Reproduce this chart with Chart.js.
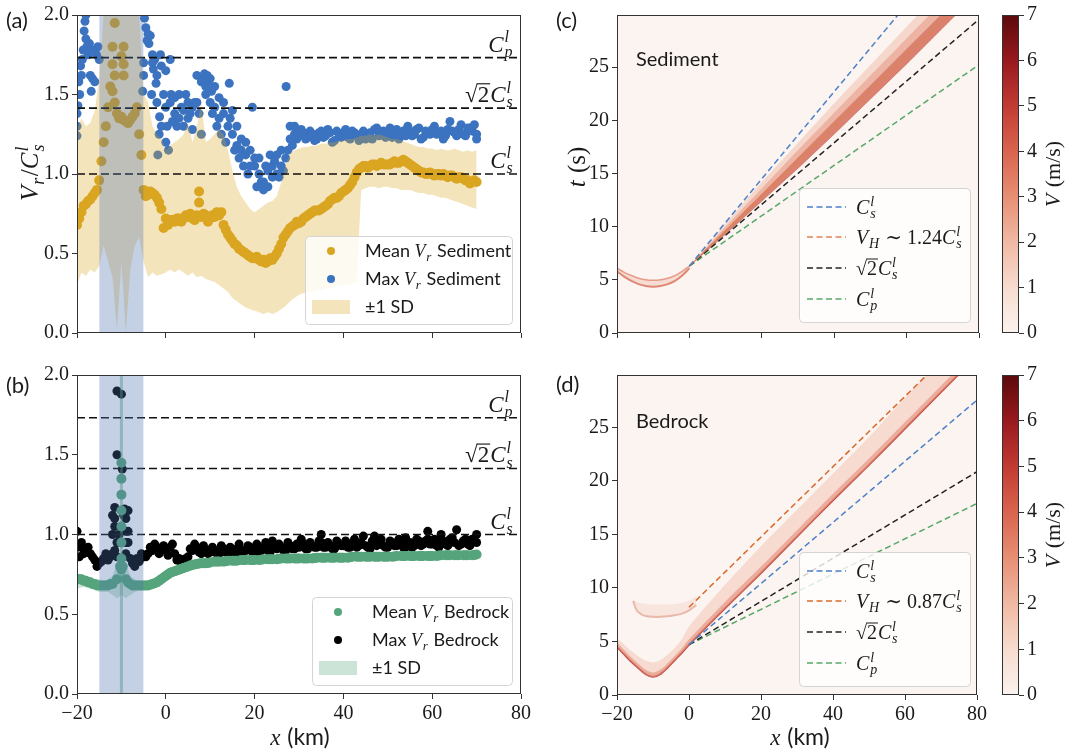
<!DOCTYPE html>
<html>
<head>
<meta charset="utf-8">
<script src="https://cdn.jsdelivr.net/npm/chart.js@4.4.1/dist/chart.umd.min.js"></script>
<style>
body { margin: 0; background: #fff; }
#fig { position: relative; width: 1070px; height: 752px; }
#fig canvas { position: absolute; }
</style>
</head>
<body>
<div id="fig">
  <canvas id="pa" width="535" height="360" style="left:0;top:0"></canvas>
  <canvas id="pb" width="535" height="392" style="left:0;top:360px"></canvas>
  <canvas id="pc" width="450" height="360" style="left:540px;top:0"></canvas>
  <canvas id="cbc" width="80" height="360" style="left:990px;top:0"></canvas>
  <canvas id="pd" width="450" height="392" style="left:540px;top:360px"></canvas>
  <canvas id="cbd" width="80" height="392" style="left:990px;top:360px"></canvas>
</div>
<script>
// ---------- profiles along x (km), one value per km from -20 to 70 ----------
var profX = [];
for (var i = -20; i <= 70; i++) profX.push(i);

var meanSed = [0.68,0.76,0.81,0.84,0.88,0.96,1.20,1.42,1.52,1.38,1.36,1.33,1.34,1.38,1.25,0.90,0.87,0.88,0.85,0.78,
  0.72,0.71,0.70,0.72,0.72,0.73,0.72,0.74,0.73,0.74,0.72,0.73,0.74,0.68,0.62,0.58,0.55,0.52,0.50,0.48,
  0.47,0.46,0.46,0.45,0.46,0.50,0.56,0.62,0.66,0.68,0.69,0.72,0.74,0.76,0.77,0.78,0.80,0.83,0.85,0.86,
  0.89,0.91,0.95,1.01,1.04,1.05,1.05,1.06,1.06,1.06,1.06,1.07,1.07,1.08,1.08,1.06,1.04,1.02,1.01,1.00,
  1.00,1.00,0.99,0.99,0.99,0.98,0.98,0.97,0.96,0.95,0.95];
var meanSedExtra = [[-19.5,0.72],[-18.5,0.80],[-17.5,0.83],[-16.5,0.86],[-15.5,0.90],[-14.5,1.08],[-13.5,1.30],
  [-12.5,1.55],[-11.5,1.45],[-10.5,1.35],[-9.5,1.34],[-8.5,1.32],[-7.5,1.36],[-6.5,1.42],[-5.5,1.12],[-4.5,0.86],
  [-3.5,0.89],[-2.5,0.87],[-1.5,0.82],[-0.5,0.66],[-11.5,1.95],[-12,1.80],[-9.5,1.80],[-10,1.74],[-12,1.69],
  [-9.5,1.69],[-9.5,1.62],[-11.5,1.62],[7.5,0.89],[7.5,0.82],[12.5,0.76],[0.5,0.68],[1.5,0.71],[2.5,0.72],
  [3.5,0.70],[4.5,0.74],[5.5,0.75],[6.5,0.71],[8.5,0.75],[9.5,0.70],[10.5,0.74],[11.5,0.76],[13.5,0.65],
  [14.5,0.60],[15.5,0.56],[16.5,0.53],[17.5,0.51],[18.5,0.49],[19.5,0.47],[20.5,0.48],[21.5,0.45],[22.5,0.44],
  [23.5,0.47],[24.5,0.48],[25.5,0.53],[26.5,0.60],[27.5,0.64],[28.5,0.67],[29.5,0.70],[30.5,0.70],[31.5,0.73],
  [32.5,0.75],[33.5,0.77],[34.5,0.77],[35.5,0.79],[36.5,0.81],[37.5,0.84],[38.5,0.85],[39.5,0.88],[40.5,0.90],
  [41.5,0.93],[42.5,0.98],[43.5,1.03],[44.5,1.05],[45.5,1.04],[46.5,1.06],[47.5,1.05],[48.5,1.07],[49.5,1.06],
  [50.5,1.06],[51.5,1.08],[52.5,1.07],[53.5,1.09],[54.5,1.07],[55.5,1.05],[56.5,1.03],[57.5,1.01],[58.5,1.00],
  [59.5,1.01],[60.5,0.99],[61.5,1.00],[62.5,1.00],[63.5,0.98],[64.5,0.99],[65.5,0.97],[66.5,0.98],[67.5,0.96],
  [68.5,0.94],[69.5,0.96]];
var sedUp = [1.28,1.35,1.30,1.32,1.40,1.60,2.0,2.0,2.0,2.0,2.0,2.0,2.0,2.0,2.0,1.50,1.45,1.30,1.25,1.22,
  1.15,1.18,1.20,1.22,1.25,1.32,1.20,1.30,1.45,1.20,1.22,1.25,1.28,1.25,1.15,1.02,0.92,0.86,0.82,0.78,
  0.76,0.78,0.80,0.82,0.83,0.86,0.95,1.06,1.13,1.15,1.16,1.17,1.17,1.18,1.18,1.19,1.19,1.20,1.20,1.21,
  1.21,1.22,1.22,1.23,1.24,1.24,1.25,1.24,1.25,1.24,1.23,1.22,1.22,1.21,1.20,1.19,1.18,1.17,1.17,1.16,
  1.16,1.15,1.16,1.15,1.15,1.16,1.15,1.14,1.15,1.14,1.15];
var sedLo = [0.30,0.38,0.36,0.40,0.38,0.42,0.55,0.45,0.35,0.02,0.45,0.0,0.40,0.55,0.60,0.45,0.35,0.38,0.36,0.37,
  0.38,0.40,0.38,0.40,0.38,0.36,0.38,0.35,0.36,0.34,0.33,0.32,0.30,0.28,0.26,0.22,0.20,0.18,0.16,0.15,
  0.14,0.13,0.12,0.13,0.12,0.13,0.15,0.17,0.20,0.22,0.24,0.25,0.26,0.26,0.27,0.27,0.28,0.28,0.29,0.30,
  0.30,0.30,0.31,0.32,0.90,0.91,0.92,0.92,0.91,0.92,0.92,0.91,0.91,0.90,0.90,0.90,0.89,0.88,0.88,0.87,
  0.87,0.86,0.85,0.85,0.84,0.83,0.82,0.81,0.80,0.79,0.78];
var maxSed = [1.30,1.62,1.85,1.78,1.58,1.72,null,null,null,null,null,null,null,null,null,1.62,1.88,1.70,1.62,1.30,
  1.42,1.45,1.38,1.35,1.40,1.45,1.42,1.45,1.58,1.55,1.45,1.42,1.35,1.38,1.30,1.25,1.18,1.15,1.12,1.05,
  1.10,1.00,0.95,1.02,1.05,1.00,1.05,1.10,1.22,1.25,1.24,1.26,1.23,1.25,1.22,1.27,1.24,1.26,1.21,1.25,
  1.26,1.23,1.27,1.24,1.25,1.22,1.26,1.28,1.24,1.27,1.25,1.23,1.28,1.26,1.24,1.27,1.25,1.29,1.23,1.26,
  1.28,1.25,1.27,1.24,1.33,1.26,1.28,1.25,1.29,1.27,1.25];
var maxSedExtra = [[-20,1.24],[-20,1.38],[-19.8,1.43],[-19.6,1.58],[-19.4,1.50],[-19.2,1.68],[-18.8,1.72],
  [-18.6,1.78],[-18.4,1.90],[-18.2,1.96],[-18,2.0],[-17.8,1.80],[-17.5,1.75],[-17.2,1.82],[-17,1.62],[-16.8,1.52],
  [-16.5,1.60],[-16.2,1.78],[-15.6,1.75],[-15.3,1.80],
  [-5.2,1.52],[-5,1.70],[-4.8,1.98],[-4.5,1.92],[-4.2,1.84],[-3.8,1.82],[-3.5,1.87],[-3.2,1.50],[-3,1.75],
  [-2.8,1.66],[-2.5,1.72],[-2.2,1.57],[-2,1.45],[-1.8,1.12],[-1.5,1.25],[-1.4,1.36],[-1.2,1.75],[-1,1.68],[-0.5,1.50],
  [0,1.65],[0,1.20],[0.3,1.30],[0.6,1.15],[1,1.72],[1.2,1.50],[1.5,1.33],[2,1.48],[2.5,1.30],[3,1.50],[3.5,1.42],
  [4,1.30],[4.5,1.50],[5,1.35],[5.5,1.38],[6,1.28],[6.5,1.45],[7,1.62],[7.5,1.38],[8,1.25],[8.3,1.60],[8.7,1.63],
  [9,1.50],[9.3,1.62],[9.6,1.58],[10,1.60],[10.3,1.52],[10.5,1.38],[11,1.55],[11.5,1.30],[12,1.48],[12.5,1.25],
  [13,1.45],[13.5,1.20],[14.3,1.57],[14.5,1.35],[15,1.40],[15.5,1.15],[16,1.30],[16.5,1.10],[17,1.22],[17.5,1.05],
  [18,1.20],[18.5,1.00],[19,1.15],[19.5,1.42],[20,1.05],[20.5,0.92],[21,1.10],[21.5,0.95],[22,0.90],[22.5,1.05],
  [23,0.92],[23.5,1.12],[24,0.98],[24.5,1.08],[25,1.12],[25.5,0.98],[26,1.15],[26.5,1.02],[27.1,1.55],[27.5,1.15],
  [28,1.30],[28.5,1.18],[29,1.30],[29.5,1.22],
  [30.5,1.28],[31.5,1.22],[32.5,1.27],[33.5,1.21],[34.5,1.26],[35.5,1.23],[36.5,1.28],[37.5,1.20],[38.5,1.27],
  [39.5,1.23],[40.5,1.28],[41.5,1.22],[42.5,1.26],[43.5,1.21],[44.5,1.27],[45.5,1.24],[46.5,1.22],[47.5,1.29],
  [48.5,1.25],[49.5,1.23],[50.5,1.29],[51.5,1.26],[52.5,1.22],[53.5,1.27],[54.5,1.30],[55.5,1.24],[56.5,1.28],
  [57.5,1.22],[58.5,1.27],[59.5,1.25],[60.5,1.30],[61.5,1.26],[62.5,1.22],[63.5,1.28],[64.5,1.27],[65.5,1.24],
  [66.5,1.31],[67.5,1.24],[68.5,1.29],[69.5,1.31],[70,1.22]];

var meanBed = [0.72,0.72,0.71,0.70,0.69,0.68,0.68,0.68,0.69,0.72,0.78,0.72,0.69,0.68,0.68,0.68,0.68,0.69,0.70,0.72,
  0.74,0.76,0.77,0.78,0.79,0.80,0.81,0.815,0.82,0.82,0.825,0.83,0.83,0.83,0.835,0.835,0.835,0.84,0.84,0.84,
  0.84,0.84,0.845,0.845,0.845,0.845,0.85,0.85,0.85,0.85,0.85,0.85,0.85,0.85,0.855,0.855,0.855,0.855,0.855,0.855,
  0.855,0.855,0.86,0.86,0.86,0.86,0.86,0.86,0.86,0.86,0.86,0.86,0.865,0.865,0.865,0.865,0.865,0.865,0.865,0.865,
  0.865,0.865,0.87,0.87,0.87,0.87,0.87,0.87,0.87,0.87,0.875];
var meanBedExtra = [[-10,0.85],[-10,0.95],[-10,1.05],[-10,1.15],[-10,1.25],[-10,1.35],[-10,1.45],[-10.3,0.80],[-9.7,0.80],
  [-19.5,0.72],[-18.5,0.71],[-17.5,0.70],[-16.5,0.69],[-15.5,0.68],[-14.5,0.68],[-13.5,0.68],[-12.5,0.69],
  [-8.5,0.70],[-7.5,0.68],[-6.5,0.68],[-5.5,0.68],[-4.5,0.68],[-3.5,0.685],[-2.5,0.695],[-1.5,0.71],[-0.5,0.73],
  [0.5,0.75],[1.5,0.765],[2.5,0.775],[3.5,0.785],[4.5,0.795],[5.5,0.805],[6.5,0.812],[7.5,0.818],[8.5,0.82],
  [9.5,0.822],[11.5,0.83],[13.5,0.832],[15.5,0.835],[17.5,0.84],[19.5,0.84],[21.5,0.842],[23.5,0.845],[25.5,0.848],
  [27.5,0.85],[29.5,0.85],[31.5,0.85],[33.5,0.852],[35.5,0.855],[37.5,0.855],[39.5,0.855],[41.5,0.858],[43.5,0.86],
  [45.5,0.86],[47.5,0.86],[49.5,0.86],[51.5,0.862],[53.5,0.865],[55.5,0.865],[57.5,0.865],[59.5,0.865],[61.5,0.868],
  [63.5,0.87],[65.5,0.87],[67.5,0.87],[69.5,0.872]];
var bedUp = [0.76,0.75,0.74,0.73,0.72,0.72,0.71,0.72,0.74,0.82,0.86,0.82,0.74,0.72,0.71,0.71,0.71,0.72,0.73,0.75,
  0.77,0.79,0.80,0.81,0.82,0.83,0.84,0.845,0.85,0.85,0.855,0.86,0.86,0.86,0.865,0.865,0.865,0.87,0.87,0.87,
  0.87,0.87,0.875,0.875,0.875,0.875,0.88,0.88,0.88,0.88,0.88,0.88,0.88,0.88,0.885,0.885,0.885,0.885,0.885,0.885,
  0.885,0.885,0.89,0.89,0.89,0.89,0.89,0.89,0.89,0.89,0.89,0.89,0.895,0.895,0.895,0.895,0.895,0.895,0.895,0.895,
  0.895,0.895,0.90,0.90,0.90,0.90,0.90,0.90,0.90,0.90,0.905];
var bedLo = [0.66,0.67,0.67,0.66,0.65,0.64,0.64,0.64,0.62,0.60,0.62,0.60,0.62,0.64,0.65,0.65,0.65,0.66,0.67,0.69,
  0.71,0.73,0.74,0.75,0.76,0.77,0.78,0.785,0.79,0.79,0.795,0.80,0.80,0.80,0.805,0.805,0.805,0.81,0.81,0.81,
  0.81,0.81,0.815,0.815,0.815,0.815,0.82,0.82,0.82,0.82,0.82,0.82,0.82,0.82,0.825,0.825,0.825,0.825,0.825,0.825,
  0.825,0.825,0.83,0.83,0.83,0.83,0.83,0.83,0.83,0.83,0.83,0.83,0.835,0.835,0.835,0.835,0.835,0.835,0.835,0.835,
  0.835,0.835,0.84,0.84,0.84,0.84,0.84,0.84,0.84,0.84,0.845];
var bedSpike = [[-10,0.0],[-10,2.0]];
var maxBed = [0.92,0.92,0.90,0.88,0.84,0.82,0.85,0.84,0.88,0.95,0.95,0.95,0.85,0.80,0.83,0.86,0.88,0.90,0.92,0.90,
  0.91,0.92,0.88,0.85,0.83,0.86,0.90,0.92,0.88,0.90,0.89,0.90,0.88,0.91,0.89,0.90,0.91,0.89,0.90,0.92,
  0.91,0.89,0.92,0.90,0.93,0.91,0.92,0.90,0.93,0.91,0.92,0.94,0.91,0.93,0.92,0.95,0.92,0.93,0.91,0.94,
  0.93,0.92,0.94,0.92,0.95,0.93,0.91,0.94,0.96,0.93,0.92,0.95,0.93,0.94,0.92,0.95,0.93,0.96,0.94,0.97,
  0.94,0.93,0.96,0.94,0.97,0.95,0.93,0.96,0.94,0.97,0.95];
var maxBedExtra = [[-20,1.02],[-19.5,0.86],[-19,0.95],[-18.5,0.88],[-17.5,0.92],[-16.5,0.86],[-15.5,0.80],[-14.5,0.83],
  [-13.5,0.88],[-12.5,0.86],[-12,1.00],[-12,1.12],[-11.5,1.17],[-11.5,1.10],[-11.5,1.05],[-11.5,0.90],[-11,1.90],
  [-11,1.50],[-11,0.86],[-10.5,1.00],[-10,1.88],[-9.8,1.41],[-9.5,1.12],[-9.3,1.16],[-9,1.10],[-9,1.02],[-9,0.88],
  [-8.5,1.15],[-8.5,0.95],[-8.5,1.02],[-7.5,0.82],[-6.5,0.85],[-5.5,0.88],[-4.5,0.86],[-3.5,0.92],[-2.5,0.94],
  [-1.5,0.88],[-0.5,0.93],[0.5,0.87],[1.5,0.94],[2.5,0.84],[3.5,0.82],[4.5,0.85],[5.5,0.91],[6.5,0.94],[7.5,0.89],
  [8.5,0.93],[9.5,0.88],[10.5,0.92],[11.5,0.88],[12.5,0.93],[13.5,0.89],[14.5,0.92],[15.5,0.88],[16.5,0.94],
  [17.5,0.90],[18.5,0.93],[19.5,0.89],[20.5,0.94],[21.5,0.90],[22.5,0.95],[23.5,0.89],[24,0.96],[24.5,0.92],
  [25.5,0.94],[26.5,0.90],[27.5,0.95],[28.5,0.91],[29.5,0.94],[30.5,0.97],[31.5,0.91],[32.5,0.95],[33.5,0.92],
  [34.5,0.96],[35,1.00],[35.5,0.92],[36.5,0.95],[37.5,0.91],[38.5,0.96],[39.5,0.93],[40.5,0.96],[41.5,0.92],
  [42.5,0.97],[43.5,0.93],[44.5,0.99],[45.5,0.92],[46.5,0.96],[47,0.99],[47.5,0.93],[48.5,0.97],[49.5,0.92],
  [50.5,0.96],[51.5,0.93],[52.5,0.97],[53.5,0.92],[54,0.98],[54.5,0.95],[55.5,0.92],[56.5,0.97],[57.5,0.93],
  [58.5,0.96],[59,1.02],[59.5,0.94],[60.5,0.97],[61.5,0.92],[62,1.00],[62.5,0.96],[63.5,0.93],[64.5,0.98],
  [65.5,1.03],[66.5,0.94],[67.5,0.97],[68.5,0.93],[69.5,0.96],[70,1.00]];

// nucleation patch and reference speed ratios (C_s, sqrt2 C_s, C_p)
var patch = [-15, -5];
var refLevels = [1.0, 1.414, 1.732];

// ---------- space-time velocity bands (t in s) ----------
var sedArcX = [-20,-18,-16,-14,-12,-10,-8,-6,-4,-2,0];
var sedArcUp = [6.1,5.7,5.4,5.15,5.0,4.95,5.0,5.15,5.4,5.8,6.3];
var sedArcLo = [5.8,5.3,4.9,4.6,4.42,4.35,4.42,4.6,4.9,5.4,6.1];
var fanX = [0,10,20,30,40,50,60,70,80];
var fanTop = [6.3,10.3,14.2,17.9,21.6,25.2,28.8,32.4,36.0];
var fanMid = [6.3,10.0,13.6,17.2,20.7,24.2,27.7,31.2,34.7];
var fanCore = [6.3,9.7,13.1,16.5,19.9,23.3,26.7,30.1,33.5];
var fanBottom = [6.3,9.3,12.4,15.5,18.7,22.0,25.3,28.7,32.1];

var bedX = [-20,-18,-16,-14,-12,-10,-8,-6,-4,-2,0,10,20,30,40,50,60,70,80];
var bedHigh = [5.3,4.7,4.1,3.6,3.2,3.05,3.25,3.75,4.4,5.2,6.4,10.3,13.9,17.3,20.7,24.1,27.8,31.2,34.6];
var bedLowIn = [4.9,4.2,3.5,2.9,2.35,2.1,2.35,2.95,3.65,4.35,5.2,8.7,12.0,15.4,18.8,22.1,25.5,28.9,32.3];
var bedLow = [4.5,3.8,3.1,2.5,1.95,1.7,1.95,2.55,3.25,3.95,4.7,8.1,11.4,14.8,18.2,21.5,24.9,28.3,31.7];
var bed2X = [-15.5,-14.5,-13,-12,-10,-8,-6,-4,-2,0,2];
var bed2High = [8.8,8.7,8.55,8.5,8.45,8.45,8.45,8.5,8.6,8.8,9.2];
var bed2Low = [8.8,7.9,7.5,7.38,7.3,7.3,7.35,7.45,7.6,7.9,8.4];

// front speeds (km/s) and origin times (s) of the dashed guides
var sedCs = 2.44, sedT0 = 6.3;
var bedCs = 3.5, bedT0 = 4.7, bedHT0 = 8.2;
var sedFactors = [1, 1.24, 1.414, 1.732];
var bedFactors = [1, 0.87, 1.414, 1.732];
var cbMax = 7;

// ---------- styles ----------
var SERIF = '"Liberation Serif", "DejaVu Serif", serif';
var SANS = 'Lato, "DejaVu Sans", sans-serif';
var INK = '#1a1a1a';
var GOLD = '#daa520', BLUE = '#3b73c0', GREEN = '#55a47b';
var SPAN = 'rgba(76,114,176,0.33)';
var BG = '#fbf4f0';
var cmap = [[0,'#fbf3ee'],[0.143,'#f7dccf'],[0.286,'#f0b9a3'],[0.429,'#e78f74'],[0.571,'#d9644e'],
  [0.714,'#c23b33'],[0.857,'#98191e'],[1,'#5c0a0c']];

Chart.defaults.font.family = SERIF;
Chart.defaults.font.size = 20;
Chart.defaults.color = INK;

function pts(xs, ys) { return xs.map(function (x, i) { return { x: x, y: ys[i] }; }); }
function pairs(list) { return list.map(function (p) { return { x: p[0], y: p[1] }; }); }

function dots(data, color, r) {
  return { data: data, showLine: false, pointRadius: r || 4.5, pointBorderWidth: 0,
    pointBackgroundColor: color, borderColor: color, backgroundColor: color };
}
function edge(data, fill, color, line, width, tension) {
  return { data: data, showLine: true, pointRadius: 0, tension: tension || 0,
    borderWidth: width || 1, borderColor: line || 'rgba(0,0,0,0)',
    fill: fill === undefined ? false : fill, backgroundColor: color || 'rgba(0,0,0,0)' };
}
function dashed(data, color, dash, width) {
  return { data: data, showLine: true, pointRadius: 0, borderColor: color, borderWidth: width || 1.5,
    borderDash: dash || [6, 3.5], fill: false };
}
function hline(v) { return dashed([{ x: -20, y: v }, { x: 80, y: v }], '#111', [8, 4], 1.6); }
function spanDs() {
  return { data: [{ x: patch[0], y: 2 }, { x: patch[1], y: 2 }], showLine: true, pointRadius: 0,
    borderWidth: 1, borderColor: 'rgba(0,0,0,0)', fill: { value: 0 }, backgroundColor: SPAN };
}
function guide(t0, cs, f, color) {
  return dashed([{ x: 0, y: t0 }, { x: 80, y: t0 + 80 / (f * cs) }], color);
}

function kmFmt(v) { return v < 0 ? '\u2212' + (-v) : String(v); }
function ratioFmt(v) { return v.toFixed(1); }
function intFmt(v) { return String(v); }

function lin(min, max, step, labels, fmt, size) {
  return {
    type: 'linear', min: min, max: max,
    ticks: { stepSize: step, includeBounds: false, display: labels, padding: 3, autoSkip: false,
      maxRotation: 0, color: INK, font: { family: SERIF, size: 20 }, callback: fmt },
    grid: { drawOnChartArea: false, drawTicks: true, tickLength: 5, color: '#333', lineWidth: 1 },
    border: { display: false },
    afterFit: function (s) { if (s.isHorizontal()) s.height = size; else s.width = size; }
  };
}

// ---------- text with sub/superscripts ----------
function mathRun(c, parts, x, y, size, draw) {
  var cx = x;
  parts.forEach(function (p) {
    var k = p[0];
    if (k === 'i' || k === 'r' || k === 'n') {
      c.font = (k === 'i' ? 'italic ' : '') + size + 'px ' + (k === 'n' ? SANS : SERIF);
      if (draw) c.fillText(p[1], cx, y);
      cx += c.measureText(p[1]).width + (k === 'i' ? size * 0.04 : 0);
    } else if (k === 'ss' || k === 'sub' || k === 'sup') {
      c.font = 'italic ' + Math.round(size * 0.7) + 'px ' + SERIF;
      var w = 0;
      if (k !== 'sub') { if (draw) c.fillText(p[1], cx, y - size * 0.42); w = c.measureText(p[1]).width; }
      var sb = k === 'ss' ? p[2] : (k === 'sub' ? p[1] : null);
      if (sb) { if (draw) c.fillText(sb, cx, y + size * 0.22); w = Math.max(w, c.measureText(sb).width); }
      cx += w + size * 0.06;
    } else if (k === 'sqrt') {
      c.font = size + 'px ' + SERIF;
      var rw = c.measureText('\u221a').width, aw = c.measureText(p[1]).width;
      if (draw) {
        c.fillText('\u221a', cx, y);
        c.fillText(p[1], cx + rw, y);
        c.lineWidth = Math.max(1, size * 0.05);
        c.beginPath(); c.moveTo(cx + rw * 0.92, y - size * 0.8); c.lineTo(cx + rw + aw + 1, y - size * 0.8); c.stroke();
      }
      cx += rw + aw + 1;
    }
  });
  return cx - x;
}
function drawMath(c, parts, x, y, size, align, color) {
  c.save();
  c.fillStyle = color || INK; c.strokeStyle = color || INK;
  c.textAlign = 'left'; c.textBaseline = 'alphabetic';
  var w = mathRun(c, parts, 0, 0, size, false);
  var x0 = align === 'right' ? x - w : (align === 'center' ? x - w / 2 : x);
  mathRun(c, parts, x0, y, size, true);
  c.restore();
}
function drawMathUp(c, parts, x, y, size) {
  c.save(); c.translate(x, y); c.rotate(-Math.PI / 2);
  drawMath(c, parts, 0, 0, size, 'center');
  c.restore();
}
function box(c, x, y, w, h) {
  c.save();
  c.fillStyle = 'rgba(255,255,255,0.8)'; c.strokeStyle = '#d4d4d4'; c.lineWidth = 1;
  c.beginPath(); c.roundRect(x + 0.5, y + 0.5, w, h, 4); c.fill(); c.stroke();
  c.restore();
}
function label(c, text, x, y, size) {
  c.save(); c.fillStyle = INK; c.font = size + 'px ' + SANS; c.textAlign = 'left'; c.textBaseline = 'alphabetic';
  c.fillText(text, x, y); c.restore();
}

var CS = [['i', 'C'], ['ss', 'l', 's']];
var refLabels = [CS, [['sqrt', '2']].concat(CS), [['i', 'C'], ['ss', 'l', 'p']]];

function refNotes(chart) {
  var c = chart.ctx, a = chart.chartArea, y = chart.scales.y;
  refLevels.forEach(function (v, i) {
    drawMath(c, refLabels[i], a.right - 7, y.getPixelForValue(v) - 6, 23, 'right');
  });
}
function dotLegend(c, x, y, w, mx, tx, rows) {
  box(c, x, y, w, 88);
  rows.forEach(function (r, i) {
    var cy = y + 15 + i * 28;
    c.save();
    if (r.patch) {
      c.fillStyle = r.color; c.fillRect(mx - 19, cy - 7, 38, 14);
    } else {
      c.fillStyle = r.color; c.beginPath(); c.arc(mx, cy, 4, 0, Math.PI * 2); c.fill();
    }
    c.restore();
    drawMath(c, r.parts, tx, cy + 6, 18, 'left');
  });
}

var frame = {
  id: 'frame',
  afterDraw: function (chart) {
    var a = chart.chartArea, c = chart.ctx;
    c.save(); c.strokeStyle = '#333'; c.lineWidth = 1;
    c.strokeRect(Math.round(a.left) + 0.5, Math.round(a.top) + 0.5, Math.round(a.right - a.left) - 1, Math.round(a.bottom - a.top) - 1);
    c.restore();
  }
};
var heatBg = {
  id: 'heatBg',
  beforeDatasetsDraw: function (chart) {
    var a = chart.chartArea, c = chart.ctx;
    c.save(); c.fillStyle = BG; c.fillRect(a.left, a.top, a.right - a.left, a.bottom - a.top); c.restore();
  }
};

function panel(id, datasets, xAxis, yAxis, pad, notes, heat) {
  var plugins = [frame, { id: 'notes', afterDatasetsDraw: notes }];
  if (heat) plugins.unshift(heatBg);
  return new Chart(document.getElementById(id), {
    type: 'line',
    data: { datasets: datasets },
    options: {
      responsive: false, animation: false, events: [],
      layout: { padding: pad },
      plugins: { legend: { display: false }, tooltip: { enabled: false } },
      scales: { x: xAxis, y: yAxis }
    },
    plugins: plugins
  });
}

function colorbar(id, padTop, padBottom) {
  var yAxis = lin(0, cbMax, 1, true, intFmt, 51);
  yAxis.position = 'right';
  return new Chart(document.getElementById(id), {
    type: 'bar',
    data: { labels: ['V'], datasets: [{ data: [cbMax], borderWidth: 0, barPercentage: 1, categoryPercentage: 1,
      backgroundColor: function (ctx) {
        var a = ctx.chart.chartArea;
        if (!a) return cmap[0][1];
        var g = ctx.chart.ctx.createLinearGradient(0, a.bottom, 0, a.top);
        cmap.forEach(function (s) { g.addColorStop(s[0], s[1]); });
        return g;
      } }] },
    options: {
      responsive: false, animation: false, events: [],
      layout: { padding: { left: 12, right: 0, top: padTop, bottom: padBottom } },
      plugins: { legend: { display: false }, tooltip: { enabled: false } },
      scales: { x: { display: false }, y: yAxis }
    },
    plugins: [frame, { id: 'cbTitle', afterDraw: function (chart) {
      var a = chart.chartArea;
      drawMathUp(chart.ctx, [['i', 'V'], ['r', ' (m/s)']], 70, (a.top + a.bottom) / 2, 22);
    } }]
  });
}

// ---------- (a) sediment rupture speed ----------
panel('pa', [
  spanDs(),
  hline(refLevels[2]), hline(refLevels[1]), hline(refLevels[0]),
  edge(pts(profX, sedUp), 5, 'rgba(218,165,32,0.3)'),
  edge(pts(profX, sedLo)),
  dots(pts(profX, meanSed), GOLD, 5),
  dots(pairs(meanSedExtra), GOLD, 5),
  dots(pts(profX, maxSed), BLUE),
  dots(pairs(maxSedExtra), BLUE)
], lin(-20, 80, 20, false, kmFmt, 27), lin(0, 2, 0.5, true, ratioFmt, 77),
  { left: 0, right: 14, top: 11, bottom: 0 },
  function (chart) {
    var c = chart.ctx;
    refNotes(chart);
    dotLegend(c, 305, 236, 207, 331, 365, [
      { color: GOLD, parts: [['n', 'Mean '], ['i', 'V'], ['sub', 'r'], ['n', ' Sediment']] },
      { color: BLUE, parts: [['n', 'Max '], ['i', 'V'], ['sub', 'r'], ['n', ' Sediment']] },
      { color: 'rgba(218,165,32,0.3)', patch: true, parts: [['n', '\u00b11 SD']] }
    ]);
    label(c, '(a)', 6, 28, 22);
    drawMathUp(c, [['i', 'V'], ['sub', 'r'], ['r', '/'], ['i', 'C'], ['ss', 'l', 's']], 38, 172, 25);
  });

// ---------- (b) bedrock rupture speed ----------
panel('pb', [
  spanDs(),
  hline(refLevels[2]), hline(refLevels[1]), hline(refLevels[0]),
  edge(pairs(bedSpike), false, null, 'rgba(85,164,123,0.45)', 3),
  edge(pts(profX, bedUp), 6, 'rgba(85,164,123,0.3)'),
  edge(pts(profX, bedLo)),
  dots(pts(profX, meanBed), GREEN, 5),
  dots(pairs(meanBedExtra), GREEN, 5),
  dots(pts(profX, maxBed), '#000'),
  dots(pairs(maxBedExtra), '#000')
], lin(-20, 80, 20, true, kmFmt, 58), lin(0, 2, 0.5, true, ratioFmt, 77),
  { left: 0, right: 14, top: 13, bottom: 0 },
  function (chart) {
    var c = chart.ctx;
    refNotes(chart);
    dotLegend(c, 312, 237, 200, 338, 372, [
      { color: GREEN, parts: [['n', 'Mean '], ['i', 'V'], ['sub', 'r'], ['n', ' Bedrock']] },
      { color: '#000', parts: [['n', 'Max '], ['i', 'V'], ['sub', 'r'], ['n', ' Bedrock']] },
      { color: 'rgba(85,164,123,0.3)', patch: true, parts: [['n', '\u00b11 SD']] }
    ]);
    label(c, '(b)', 6, 33, 22);
    drawMath(c, [['i', 'x'], ['n', ' (km)']], 300, 385, 23, 'center');
  });

// ---------- (c) / (d) space-time plots ----------
function guideLegend(c, y0, items) {
  box(c, 259, y0, 171, 134);
  var rows = [19, 49, 80, 111];
  items.forEach(function (it, i) {
    var cy = y0 + rows[i];
    c.save(); c.strokeStyle = it.color; c.lineWidth = 1.6; c.setLineDash([6, 3.5]);
    c.beginPath(); c.moveTo(267, cy); c.lineTo(306, cy); c.stroke(); c.restore();
    drawMath(c, it.parts, 316, cy + 7, 20, 'left');
  });
}

var sedColors = ['#4c80c8', '#dd8452', '#222', '#55a868'];
var bedColors = ['#4c80c8', '#d9692b', '#222', '#55a868'];

panel('pc', [
  guide(sedT0, sedCs, sedFactors[0], sedColors[0]),
  guide(sedT0, sedCs, sedFactors[1], sedColors[1]),
  guide(sedT0, sedCs, sedFactors[2], sedColors[2]),
  guide(sedT0, sedCs, sedFactors[3], sedColors[3]),
  edge(pts(fanX, fanCore), 7, 'rgba(200,78,58,0.5)'),
  edge(pts(fanX, fanMid), 7, 'rgba(226,128,104,0.4)'),
  edge(pts(fanX, fanTop), 7, 'rgba(240,180,160,0.45)'),
  edge(pts(fanX, fanBottom), false, null, 'rgba(190,70,55,0.5)', 1),
  edge(pts(sedArcX, sedArcUp), 9, 'rgba(236,165,145,0.3)', 'rgba(225,130,108,0.75)', 1.5, 0.3),
  edge(pts(sedArcX, sedArcLo), false, null, 'rgba(215,110,88,0.85)', 2, 0.3)
], lin(-20, 80, 20, false, kmFmt, 27), lin(0, 29.9, 5, true, intFmt, 77),
  { left: 0, right: 11, top: 11, bottom: 0 },
  function (chart) {
    var c = chart.ctx;
    guideLegend(c, 188, [
      { color: sedColors[0], parts: CS },
      { color: sedColors[1], parts: [['i', 'V'], ['sub', 'H'], ['r', ' \u223c 1.24'], ['i', 'C'], ['ss', 'l', 's']] },
      { color: sedColors[2], parts: [['sqrt', '2']].concat(CS) },
      { color: sedColors[3], parts: [['i', 'C'], ['ss', 'l', 'p']] }
    ]);
    label(c, 'Sediment', 96, 66, 20);
    label(c, '(c)', 16, 28, 22);
    drawMathUp(c, [['i', 't'], ['r', ' (s)']], 45, 167, 25);
  }, true);

panel('pd', [
  dashed([{ x: 0, y: bedT0 }, { x: 80, y: bedT0 + 80 / (bedFactors[0] * bedCs) }], bedColors[0]),
  dashed([{ x: 0, y: bedHT0 }, { x: 80, y: bedHT0 + 80 / (bedFactors[1] * bedCs) }], bedColors[1]),
  guide(bedT0, bedCs, bedFactors[2], bedColors[2]),
  guide(bedT0, bedCs, bedFactors[3], bedColors[3]),
  edge(pts(bedX, bedLowIn), 6, 'rgba(222,115,92,0.45)', null, 1, 0.3),
  edge(pts(bedX, bedHigh), 6, 'rgba(242,188,170,0.45)', null, 1, 0.3),
  edge(pts(bedX, bedLow), false, null, 'rgba(185,50,42,0.85)', 2, 0.3),
  edge(pts(bed2X, bed2High), 8, 'rgba(242,196,182,0.3)', null, 1, 0.3),
  edge(pts(bed2X, bed2Low), false, null, 'rgba(215,120,100,0.5)', 2, 0.3)
], lin(-20, 80, 20, true, kmFmt, 57), lin(0, 29.9, 5, true, intFmt, 77),
  { left: 0, right: 11, top: 13, bottom: 0 },
  function (chart) {
    var c = chart.ctx;
    guideLegend(c, 192, [
      { color: bedColors[0], parts: CS },
      { color: bedColors[1], parts: [['i', 'V'], ['sub', 'H'], ['r', ' \u223c 0.87'], ['i', 'C'], ['ss', 'l', 's']] },
      { color: bedColors[2], parts: [['sqrt', '2']].concat(CS) },
      { color: bedColors[3], parts: [['i', 'C'], ['ss', 'l', 'p']] }
    ]);
    label(c, 'Bedrock', 96, 68, 20);
    label(c, '(d)', 16, 32, 22);
    drawMath(c, [['i', 'x'], ['n', ' (km)']], 260, 385, 23, 'center');
  }, true);

colorbar('cbc', 11, 27);
colorbar('cbd', 13, 57);
</script>
</body>
</html>
